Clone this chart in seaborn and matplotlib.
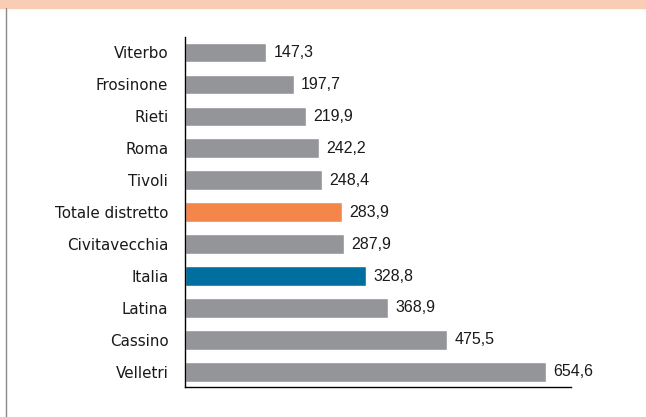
import matplotlib
matplotlib.use("Agg")
import matplotlib.pyplot as plt
import seaborn as sns
import pandas as pd
from matplotlib.patches import Rectangle
from matplotlib.lines import Line2D

categorie = ['Viterbo', 'Frosinone', 'Rieti', 'Roma', 'Tivoli', 'Totale distretto',
             'Civitavecchia', 'Italia', 'Latina', 'Cassino', 'Velletri']
valori = [147.3, 197.7, 219.9, 242.2, 248.4, 283.9, 287.9, 328.8, 368.9, 475.5, 654.6]

grigio = '#949599'
colori = {c: grigio for c in categorie}
colori['Totale distretto'] = '#F58649'
colori['Italia'] = '#006FA0'

df = pd.DataFrame({'cat': categorie, 'val': valori})

sns.set_theme(style="white")
plt.rcParams['font.family'] = ['Liberation Sans', 'DejaVu Sans']

fig = plt.figure(figsize=(6.46, 4.17), dpi=100)
ax = fig.add_axes([0.2864, 0.072, 0.884 - 0.2864, 0.839])

sns.barplot(data=df, x='val', y='cat', hue='cat', palette=colori, legend=False,
            width=0.6, saturation=1, ax=ax)

ax.set_xlim(0, 700)
ax.set_ylim(10.47, -0.47)
ax.set_xlabel('')
ax.set_ylabel('')
ax.set_xticks([])
for s in ['top', 'right']:
    ax.spines[s].set_visible(False)
for s in ['left', 'bottom']:
    ax.spines[s].set_color('black')
    ax.spines[s].set_linewidth(1.0)
ax.tick_params(axis='y', length=0, pad=12, labelsize=10.9, labelcolor='#1a1a1a')
for lab in ax.get_yticklabels():
    lab.set_fontfamily(['DejaVu Sans'])

for i, v in enumerate(valori):
    ax.text(v + 13, i, f"{v:.1f}".replace('.', ','), va='center', ha='left',
            fontsize=11.5, color='#1a1a1a')

# fascia superiore e bordo sinistro
fig.patches.append(Rectangle((0, 1 - 8 / 417), 1, 8 / 417, transform=fig.transFigure,
                             color='#F8CDB4', zorder=0))
fig.lines.append(Line2D([6 / 646, 6 / 646], [0, 1 - 8 / 417], transform=fig.transFigure,
                        color='#8a8a8a', linewidth=1))

fig.savefig('out.png', dpi=100)
